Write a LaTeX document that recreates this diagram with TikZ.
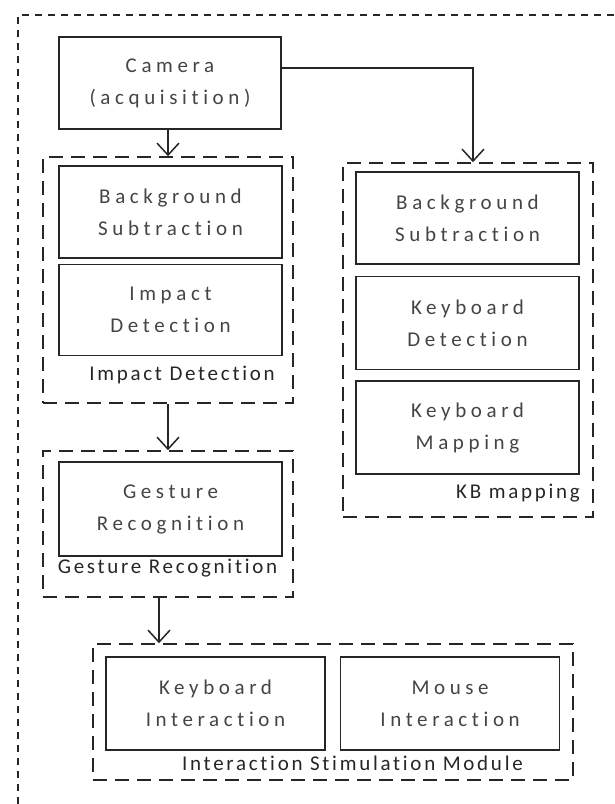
\documentclass[tikz,border=0pt]{standalone}
\usepackage{fontspec}
\newfontfamily\diagfont[LetterSpace=22,Ligatures=NoCommon]{Carlito}
\newfontfamily\tagfont[LetterSpace=13,Ligatures=NoCommon]{Carlito}
\usepackage{xcolor}
\definecolor{lineDark}{HTML}{262626}
\definecolor{textGray}{HTML}{444444}
\usetikzlibrary{positioning,arrows.meta}
\tikzset{
  stageBox/.style={
    rectangle,
    draw=lineDark,
    line width=1.6pt,
    minimum width=223pt,
    minimum height=92pt,
    align=center,
    text=textGray,
    font=\diagfont\fontsize{21}{32}\selectfont
 },
  groupBox/.style={
    rectangle,
    draw=lineDark,
    line width=1.6pt,
    dash pattern=on 14pt off 8pt
 },
  groupLabel/.style={
    inner sep=0pt,
    text=lineDark,
    font=\tagfont\fontsize{21}{24}\selectfont
 },
  arrowLine/.style={
    -{Straight Barb[length=12pt,width=22pt]},
    line width=1.5pt,
    color=lineDark
 }
}

\begin{document}
\begin{tikzpicture}[x=1pt,y=-1pt]

            \useasboundingbox (0,0) rectangle (614,804);
            \clip (0,0) rectangle (614,804);

            % whole system frame (runs off the page)
            \draw[lineDark, line width=1.6pt, dash pattern=on 7pt off 6pt] (18,830) -- (18,15) -- (640,15);

            % Camera on top
            \node[stageBox, minimum width=222pt] (camera) at (170,83) {Camera\\(acquisition)};

            % Impact detection group
            \node[groupBox, minimum width=250pt, minimum height=246pt] (impactGrp) at (168,280) {};
            \node[stageBox] (bgSub) at (170.5,212) {Background\\Subtraction};
            \node[stageBox, minimum height=91pt, below=5pt of bgSub] (impact) {Impact\\Detection};
            \node[groupLabel] (impactLbl) at (182,375) {Impact Detection};
            \draw[arrowLine] (camera.south -| impactGrp.north) -- (impactGrp.north);

            % KB mapping group on the right
            \node[groupBox, minimum width=250pt, minimum height=354pt] (kbGrp) at (468,340) {};
            \node[stageBox] (kbSub) at (467.5,218) {Background\\Subtraction};
            \node[stageBox, minimum height=93pt, below=11pt of kbSub] (kbDetect) {Keyboard\\Detection};
            \node[stageBox, minimum height=93pt, below=10pt of kbDetect] (kbMap) {Keyboard\\Mapping};
            \node[groupLabel, anchor=east] (kbLbl) at (580,493) {KB mapping};
            \draw[arrowLine] ([yshift=15pt]camera.east) -| ([xshift=5pt]kbGrp.north);

            % Gesture recognition group
            \node[groupBox, minimum width=250pt, minimum height=146pt] (gestureGrp) at (168,524) {};
            \node[stageBox, minimum height=94pt] (gesture) at (170.5,509) {Gesture\\Recognition};
            \node[groupLabel] (gestureLbl) at (167.5,568) {Gesture Recognition};
            \draw[arrowLine] (impactGrp.south) -- (gestureGrp.north);

            % Interaction stimulation at the bottom
            \node[groupBox, minimum width=480pt, minimum height=136pt] (interGrp) at (333,712) {};
            \node[stageBox, minimum width=219pt, minimum height=93pt] (keyInter) at (215.5,703.5) {Keyboard\\Interaction};
            \node[stageBox, minimum width=219pt, minimum height=93pt, right=14pt of keyInter] (mouseInter) {Mouse\\Interaction};
            \node[groupLabel] (interLbl) at (352.5,763) {Interaction Stimulation Module};
            \draw[arrowLine] ([xshift=-9pt]gestureGrp.south) -- ([xshift=-9pt]gestureGrp.south |- interGrp.north);

        \end{tikzpicture}
\end{document}
